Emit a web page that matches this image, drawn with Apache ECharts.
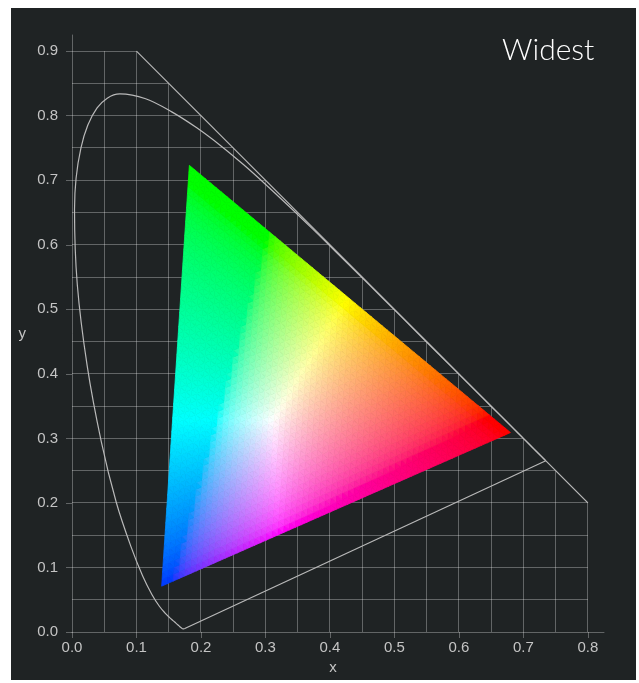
<!DOCTYPE html>
<html>
<head>
<meta charset="utf-8">
<script src="https://cdn.jsdelivr.net/npm/echarts@6/dist/echarts.min.js"></script>
<style>
  html, body { margin: 0; padding: 0; background: #ffffff; }
  #chart { position: absolute; left: 11px; top: 8px; width: 625px; height: 672px; background: #1f2324; }
</style>
</head>
<body>
<div id="chart"></div>
<script>
// CIE 1931 2° spectral locus chromaticities, 380–700 nm in 5 nm steps
const locusX = [0.1741, 0.1740, 0.1738, 0.1736, 0.1733, 0.1730, 0.1726, 0.1721, 0.1714, 0.1703,
  0.1689, 0.1669, 0.1644, 0.1611, 0.1566, 0.1510, 0.1440, 0.1355, 0.1241, 0.1096,
  0.0913, 0.0687, 0.0454, 0.0235, 0.0082, 0.0039, 0.0139, 0.0389, 0.0743, 0.1142,
  0.1547, 0.1929, 0.2296, 0.2658, 0.3016, 0.3373, 0.3731, 0.4087, 0.4441, 0.4788,
  0.5125, 0.5448, 0.5752, 0.6029, 0.6270, 0.6482, 0.6658, 0.6801, 0.6915, 0.7006,
  0.7079, 0.7140, 0.7190, 0.7230, 0.7260, 0.7283, 0.7300, 0.7311, 0.7320, 0.7327,
  0.7334, 0.7340, 0.7344, 0.7346, 0.7347];
const locusY = [0.0050, 0.0050, 0.0049, 0.0049, 0.0048, 0.0048, 0.0048, 0.0048, 0.0051, 0.0058,
  0.0069, 0.0086, 0.0109, 0.0138, 0.0177, 0.0227, 0.0297, 0.0399, 0.0578, 0.0868,
  0.1327, 0.2007, 0.2950, 0.4127, 0.5384, 0.6548, 0.7502, 0.8120, 0.8338, 0.8262,
  0.8059, 0.7816, 0.7543, 0.7243, 0.6923, 0.6589, 0.6245, 0.5896, 0.5547, 0.5202,
  0.4866, 0.4544, 0.4242, 0.3965, 0.3725, 0.3514, 0.3340, 0.3197, 0.3083, 0.2993,
  0.2920, 0.2859, 0.2809, 0.2770, 0.2740, 0.2717, 0.2700, 0.2689, 0.2680, 0.2673,
  0.2666, 0.2660, 0.2656, 0.2654, 0.2653];

// Gamut primaries (x, y)
const primaryRed = [0.680, 0.309];
const primaryGreen = [0.182, 0.723];
const primaryBlue = [0.139, 0.071];

// Labelled ticks
const xTicks = [0.0, 0.1, 0.2, 0.3, 0.4, 0.5, 0.6, 0.7, 0.8];
const yTicks = [0.0, 0.1, 0.2, 0.3, 0.4, 0.5, 0.6, 0.7, 0.8, 0.9];

// Grid line positions (every 0.05); the grid is bounded by x + y = 1
const gridXs = [0.05, 0.10, 0.15, 0.20, 0.25, 0.30, 0.35, 0.40, 0.45, 0.50, 0.55, 0.60, 0.65, 0.70, 0.75, 0.80];
const gridYs = [0.05, 0.10, 0.15, 0.20, 0.25, 0.30, 0.35, 0.40, 0.45, 0.50, 0.55, 0.60, 0.65, 0.70, 0.75, 0.80, 0.85, 0.90];
const gridMaxX = 0.8;
const gridMaxY = 0.9;
const gridDiagonal = [[0.1, 0.9], [0.8, 0.2]];

const chartTitle = 'Widest';

// ---------- colour helpers: chromaticity -> sRGB (clipped, max-normalised) ----------
const XYZ_TO_SRGB = [
  [3.2406, -1.5372, -0.4986],
  [-0.9689, 1.8758, 0.0415],
  [0.0557, -0.2040, 1.0570]
];
function xyToXYZ(x, y) { return [x / y, 1, (1 - x - y) / y]; }
function encode(c) { return c <= 0.0031308 ? 12.92 * c : 1.055 * Math.pow(c, 1 / 2.4) - 0.055; }
function chromaColor(x, y) {
  const v = xyToXYZ(x, y);
  let rgb = XYZ_TO_SRGB.map(r => Math.max(0, r[0] * v[0] + r[1] * v[1] + r[2] * v[2]));
  const mx = Math.max(rgb[0], rgb[1], rgb[2]) || 1;
  rgb = rgb.map(c => Math.round(255 * Math.min(1, encode(c / mx))));
  return 'rgb(' + rgb.join(',') + ')';
}

// ---------- grid segments ----------
const gridSegments = [];
gridXs.forEach(x => gridSegments.push([x, 0, x, Math.min(gridMaxY, 1 - x)]));
gridYs.forEach(y => gridSegments.push([0, y, Math.min(gridMaxX, 1 - y), y]));

const GRID_COLOR = 'rgba(255,255,255,0.3)';
const LINE_COLOR = '#b9b9b9';
const LABEL_COLOR = '#c4c4c4';
const crisp = v => Math.round(v - 0.5) + 0.5;

const chart = echarts.init(document.getElementById('chart'), null, { renderer: 'canvas' });

const locusPoints = locusX.map((x, i) => [x, locusY[i]]);
const purpleLine = [locusPoints[locusPoints.length - 1], locusPoints[0]];

const option = {
  animation: false,
  backgroundColor: 'transparent',
  grid: { left: 61, top: 27, width: 532, height: 597, containLabel: false },
  xAxis: {
    type: 'value', min: 0, max: 0.825,
    name: 'x', nameLocation: 'middle', nameGap: 27,
    nameTextStyle: { color: LABEL_COLOR, fontSize: 15, fontFamily: 'Liberation Sans, Arial, sans-serif', padding: [0, 10, 0, 0] },
    axisLine: { show: true, lineStyle: { color: GRID_COLOR, width: 1 } },
    axisTick: { show: true, length: 6, inside: false, customValues: xTicks, lineStyle: { color: GRID_COLOR } },
    axisLabel: { customValues: xTicks, color: LABEL_COLOR, fontSize: 15, margin: 8,
      fontFamily: 'Liberation Sans, Arial, sans-serif', formatter: v => v.toFixed(1) },
    splitLine: { show: false }
  },
  yAxis: {
    type: 'value', min: 0, max: 0.925,
    name: 'y', nameLocation: 'middle', nameGap: 46, nameRotate: 0,
    nameTextStyle: { color: LABEL_COLOR, fontSize: 15, fontFamily: 'Liberation Sans, Arial, sans-serif' },
    axisLine: { show: true, lineStyle: { color: GRID_COLOR, width: 1 } },
    axisTick: { show: true, length: 6, inside: false, customValues: yTicks, lineStyle: { color: GRID_COLOR } },
    axisLabel: { customValues: yTicks, color: LABEL_COLOR, fontSize: 15, margin: 14,
      fontFamily: 'Liberation Sans, Arial, sans-serif', formatter: v => v.toFixed(1) },
    splitLine: { show: false }
  },
  graphic: [{
    type: 'text', left: 491, top: 27, z: 10,
    style: { text: chartTitle, fill: '#ffffff', fontSize: 30, fontWeight: 300, fontFamily: 'Lato, "Open Sans", sans-serif' }
  }],
  series: [
    {
      // clipped grid inside x + y <= 1
      type: 'custom', name: 'grid', z: 1, silent: true,
      data: gridSegments,
      renderItem: function (params, api) {
        const a = api.coord([api.value(0), api.value(1)]);
        const b = api.coord([api.value(2), api.value(3)]);
        const vertical = api.value(0) === api.value(2);
        return {
          type: 'line',
          shape: vertical
            ? { x1: crisp(a[0]), y1: a[1], x2: crisp(b[0]), y2: b[1] }
            : { x1: a[0], y1: crisp(a[1]), x2: b[0], y2: crisp(b[1]) },
          style: { stroke: GRID_COLOR, lineWidth: 1 }
        };
      }
    },
    {
      type: 'line', name: 'boundary', z: 2, silent: true,
      data: gridDiagonal, showSymbol: false, symbol: 'none',
      lineStyle: { color: LINE_COLOR, width: 1.2 }
    },
    {
      type: 'line', name: 'locus', z: 2, silent: true,
      data: locusPoints, smooth: 0.35,
      showSymbol: false, symbol: 'none',
      lineStyle: { color: LINE_COLOR, width: 1.2 }
    },
    {
      type: 'line', name: 'purple line', z: 2, silent: true,
      data: purpleLine, showSymbol: false, symbol: 'none',
      lineStyle: { color: LINE_COLOR, width: 1.2 }
    },
    {
      // gamut triangle, coloured by chromaticity
      type: 'custom', name: 'gamut', z: 3, silent: true,
      data: [[primaryRed[0], primaryRed[1], primaryGreen[0], primaryGreen[1], primaryBlue[0], primaryBlue[1]]],
      renderItem: function (params, api) {
        const R = [api.value(0), api.value(1)], G = [api.value(2), api.value(3)], B = [api.value(4), api.value(5)];
        const N = 60;
        const pt = (i, j) => {
          const k = N - i - j;
          return [(i * R[0] + j * G[0] + k * B[0]) / N, (i * R[1] + j * G[1] + k * B[1]) / N];
        };
        const children = [];
        const addTri = (p1, p2, p3) => {
          const cx = (p1[0] + p2[0] + p3[0]) / 3, cy = (p1[1] + p2[1] + p3[1]) / 3;
          const col = chromaColor(cx, cy);
          children.push({
            type: 'polygon',
            shape: { points: [api.coord(p1), api.coord(p2), api.coord(p3)] },
            style: { fill: col, stroke: col, lineWidth: 0.8 }
          });
        };
        for (let i = 0; i < N; i++) {
          for (let j = 0; j < N - i; j++) {
            addTri(pt(i, j), pt(i + 1, j), pt(i, j + 1));
            if (i + j < N - 1) addTri(pt(i + 1, j), pt(i + 1, j + 1), pt(i, j + 1));
          }
        }
        return { type: 'group', children: children };
      }
    }
  ]
};

chart.setOption(option);
</script>
</body>
</html>
